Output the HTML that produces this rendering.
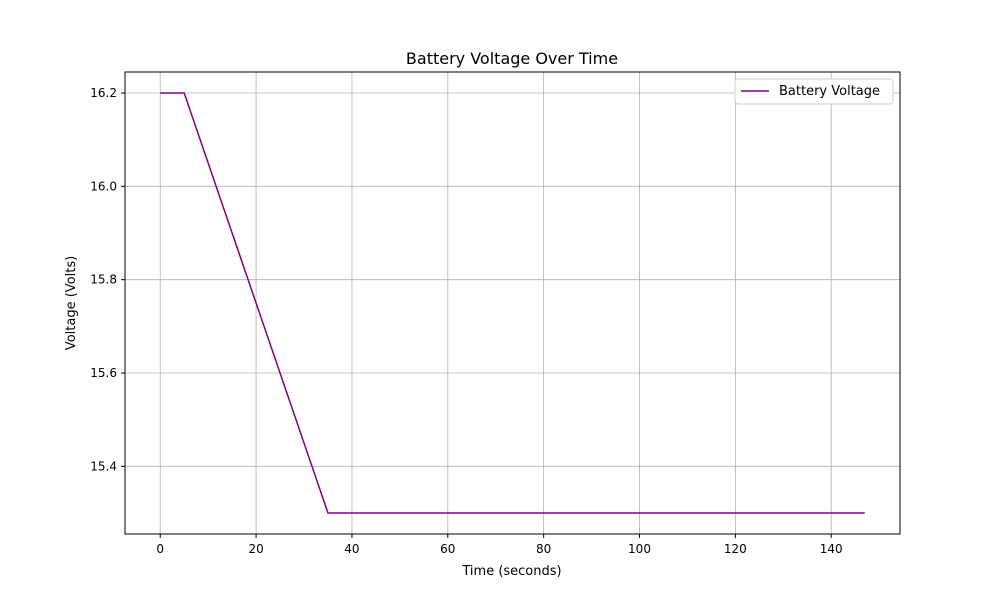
<!DOCTYPE html>
<html><head><meta charset="utf-8"><style>
body{margin:0;background:#fff;font-family:"Liberation Sans","DejaVu Sans",sans-serif;}
svg text{font-family:"DejaVu Sans","Liberation Sans",sans-serif;}
</style></head><body>
<svg id="chart" width="1000" height="600" xmlns="http://www.w3.org/2000/svg">
<rect width="1000" height="600" fill="#fff"/>
<g id="grid"></g>
<g id="series"></g>
<rect x="125" y="72" width="775" height="462" fill="none" stroke="#000" stroke-width="1"/>
<g id="xticks"></g><g id="yticks"></g>
<text x="512" y="64" text-anchor="middle" font-size="16">Battery Voltage Over Time</text>
<text x="512" y="575" text-anchor="middle" font-size="13">Time (seconds)</text>
<text x="75" y="303" text-anchor="middle" font-size="13" transform="rotate(-90 75 303)">Voltage (Volts)</text>
<g>
<rect x="735" y="79" width="158" height="25" rx="3" fill="#fff" stroke="#ccc"/>
<line x1="741" y1="91" x2="769" y2="91" stroke="#800080" stroke-width="1.5"/>
<text x="779" y="95" font-size="13">Battery Voltage</text>
</g>
</svg>
<script>
const times=[0,5,35,147];
const voltages=[16.2,16.2,15.3,15.3];
const xTicks=[0,20,40,60,80,100,120,140];
const yTicks=[15.4,15.6,15.8,16.0,16.2];
const yLabels=["15.4","15.6","15.8","16.0","16.2"];
const X0=125,X1=900,Y0=72,Y1=534;
const xmin=-7.35,xmax=154.35,ymin=15.255,ymax=16.245;
const sx=v=>X0+(v-xmin)/(xmax-xmin)*(X1-X0);
const sy=v=>Y1-(v-ymin)/(ymax-ymin)*(Y1-Y0);
const NS="http://www.w3.org/2000/svg";
function mk(t,a,p){const e=document.createElementNS(NS,t);for(const k in a)e.setAttribute(k,a[k]);p.appendChild(e);return e;}
const grid=document.getElementById('grid'),xt=document.getElementById('xticks'),yt=document.getElementById('yticks');
xTicks.forEach(v=>{const x=sx(v);
const g=mk('line',{x1:x,x2:x,y1:Y0,y2:Y1,stroke:'#b0b0b0','stroke-width':0.8},grid);


const t=mk('line',{x1:x,x2:x,y1:Y1,y2:Y1+4,stroke:'#000'},xt);


const l=mk('text',{x:x,y:Y1+19,'text-anchor':'middle','font-size':12},xt);l.textContent=v;

});
yTicks.forEach((v,i)=>{const y=sy(v);
const g=mk('line',{x1:X0,x2:X1,y1:y,y2:y,stroke:'#b0b0b0','stroke-width':0.8},grid);


const t=mk('line',{x1:X0-4,x2:X0,y1:y,y2:y,stroke:'#000'},yt);


const l=mk('text',{x:X0-8,y:y+4,'text-anchor':'end','font-size':12},yt);l.textContent=yLabels[i];

});
const pts=times.map((t,i)=>sx(t)+','+sy(voltages[i])).join(' ');
const pl=mk('polyline',{points:pts,fill:'none',stroke:'#800080','stroke-width':1.5},document.getElementById('series'));


</script>
</body></html>
